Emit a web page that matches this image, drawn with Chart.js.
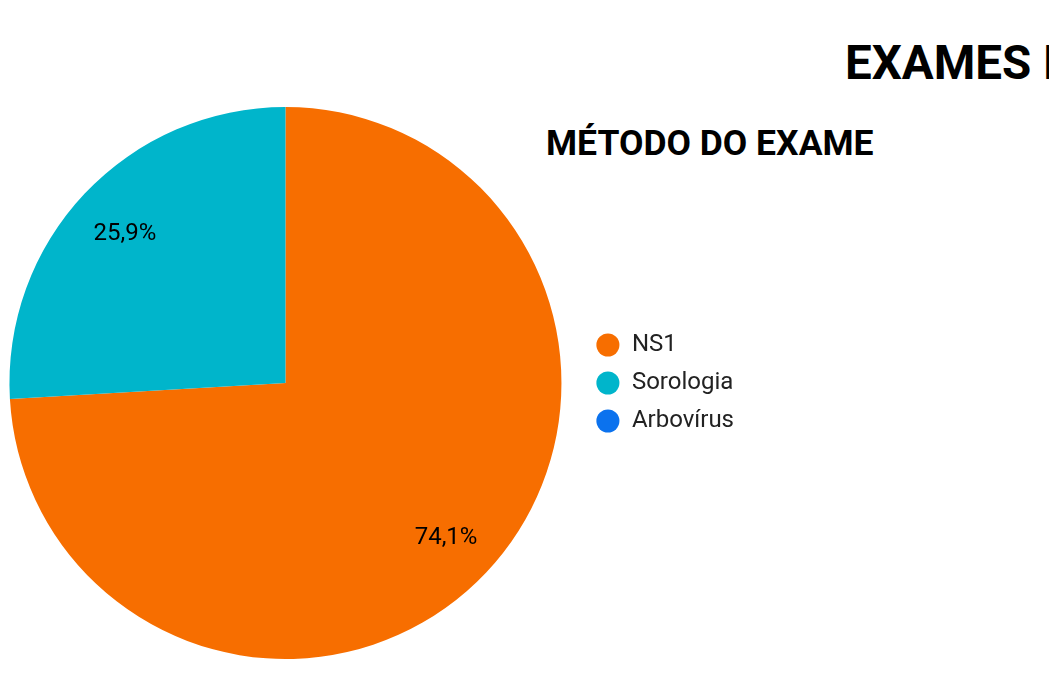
<!DOCTYPE html>
<html lang="pt-BR">
<head>
<meta charset="utf-8">
<title>Método do exame</title>
<script src="https://cdn.jsdelivr.net/npm/chart.js@4.4.1/dist/chart.umd.min.js"></script>
<style>
    html, body { margin: 0; padding: 0; width: 1049px; height: 681px; overflow: hidden; background: #fff; }
    body { position: relative; font-family: Roboto, "Noto Sans", sans-serif; color: #000; }
    .titulo { position: absolute; white-space: nowrap; font-weight: 700; line-height: 1; }
    #tituloPrincipal { left: 845px; top: 40px; font-size: 47.5px; }
    #tituloGrafico { left: 546px; top: 126px; font-size: 35.5px; }
    #caixa { position: absolute; left: -11px; top: 0; width: 1060px; height: 681px; }
</style>
</head>
<body>

<div class="titulo" id="tituloPrincipal">EXAMES POR MÉTODO</div>
<div class="titulo" id="tituloGrafico">MÉTODO DO EXAME</div>

<div id="caixa"><canvas id="graficoMetodo"></canvas></div>

<script>
// Dados do gráfico
const metodos = ['NS1', 'Sorologia', 'Arbovírus'];
const exames = [20, 7, 0];
const cores = ['#F76E00', '#00B5CB', '#0B72EE'];

// Rótulos de porcentagem dentro das fatias
const rotulosPorcentagem = {
    id: 'rotulosPorcentagem',
    afterDatasetsDraw(chart) {
        const ctx = chart.ctx;
        const meta = chart.getDatasetMeta(0);
        const total = exames.reduce((a, b) => a + b, 0);
        ctx.save();
        ctx.font = '24px Roboto';
        ctx.fillStyle = '#000';
        ctx.textAlign = 'center';
        ctx.textBaseline = 'middle';
        meta.data.forEach((arco, i) => {
            if (!exames[i]) return;
            const p = arco.getProps(['x', 'y', 'startAngle', 'endAngle', 'outerRadius'], true);
            const meio = (p.startAngle + p.endAngle) / 2;
            const r = p.outerRadius * 0.8;
            const texto = (exames[i] / total * 100).toFixed(1).replace('.', ',') + '%';
            // pequeno ajuste para centralizar visualmente o texto
            ctx.fillText(texto, p.x + Math.cos(meio) * r, p.y + Math.sin(meio) * r + 3);
        });
        ctx.restore();
    }
};

new Chart(document.getElementById('graficoMetodo'), {
    type: 'pie',
    data: {
        labels: metodos,
        datasets: [{
            data: exames,
            backgroundColor: cores,
            borderWidth: 0
        }]
    },
    options: {
        responsive: true,
        maintainAspectRatio: false,
        animation: false,
        events: [],
        layout: { padding: { left: 0, top: 107, bottom: 22, right: 305 } },
        plugins: {
            tooltip: { enabled: false },
            legend: {
                position: 'right',
                align: 'center',
                labels: {
                    usePointStyle: true,
                    pointStyle: 'circle',
                    boxHeight: 16.3,
                    padding: 14,
                    color: '#222',
                    font: { family: 'Roboto', size: 24 }
                }
            }
        }
    },
    plugins: [rotulosPorcentagem]
});
</script>
</body>
</html>
